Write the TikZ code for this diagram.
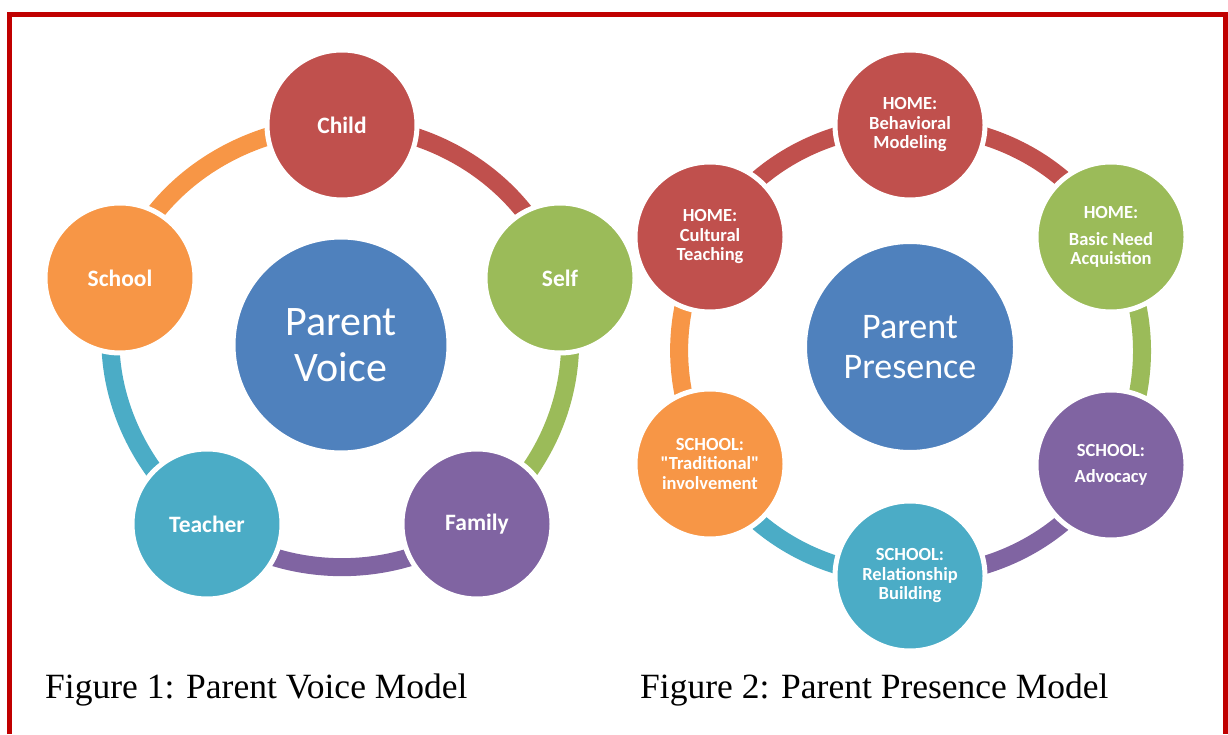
\documentclass[tikz,border=0pt]{standalone}
\usepackage{fontspec}
\newfontfamily\calfont{Carlito}
\newfontfamily\capfont{Liberation Serif}
\usetikzlibrary{backgrounds}
\definecolor{ringred}{HTML}{C0504D}
\definecolor{ringgreen}{HTML}{9BBB59}
\definecolor{ringpurple}{HTML}{8064A2}
\definecolor{ringteal}{HTML}{4BACC6}
\definecolor{ringorange}{HTML}{F79646}
\definecolor{hubblue}{HTML}{4F81BD}
\definecolor{framered}{HTML}{C00000}
\tikzset{dot/.style={
            circle,
            draw=white,
            line width=5pt,
            inner sep=0pt,
            minimum size=150pt,
            text=white,
            align=center,
            font=\calfont\bfseries\fontsize{23.5}{25}\selectfont
        },
        smalldot/.style={
            dot,
            font=\calfont\bfseries\fontsize{18.5}{19.5}\selectfont
        },
        hub/.style={
            dot,
            fill=hubblue,
            minimum size=216pt,
            font=\calfont\fontsize{42}{46}\selectfont
        },
        band/.style={
            line width=18pt,
            looseness=0.93
        },
        caption/.style={
            anchor=base west,
            inner sep=0pt,
            font=\capfont\fontsize{35.5}{40}\selectfont
        }
    }
\begin{document}
\begin{tikzpicture}[x=1pt,y=1pt]
    \useasboundingbox (0,0) rectangle (1228,734);
    \draw[framered, line width=5pt] (9,0) -- (9,719) -- (1225.5,719) -- (1225.5,0);

    % Figure 1
    \node[hub] (voice) at (341,389) {Parent\\Voice};
    \node[dot, fill=ringred] (child) at (342,609) {Child};
    \node[dot, fill=ringgreen] (self) at (560,456) {Self};
    \node[dot, fill=ringpurple] (family) at (477,210) {Family};
    \node[dot, fill=ringteal] (teacher) at (207,210) {Teacher};
    \node[dot, fill=ringorange] (school) at (120,456) {School};

    % Figure 2
    \node[hub, minimum size=211pt, font=\calfont\fontsize{36}{40}\selectfont] (presence) at (910,387) {Parent\\Presence};
    \node[smalldot, fill=ringred] (behav) at (910,609) {HOME:\\Behavioral\\Modeling};
    \node[smalldot, fill=ringgreen] (need) at (1111,497) {HOME:\\[7pt]Basic Need\\Acquistion};
    \node[smalldot, fill=ringpurple] (advocacy) at (1111,269) {SCHOOL:\\[7pt]Advocacy};
    \node[smalldot, fill=ringteal] (relation) at (910,158) {SCHOOL:\\Relationship\\Building};
    \node[smalldot, fill=ringorange] (tradition) at (710,270) {SCHOOL:\\"Traditional"\\involvement};
    \node[smalldot, fill=ringred] (culture) at (710,497) {HOME:\\Cultural\\Teaching};

    \begin{scope}[on background layer]
        \draw[band, ringred] (child.center) to[out=0, in=108] (self.center);
        \draw[band, ringgreen] (self.center) to[out=-72, in=36] (family.center);
        \draw[band, ringpurple] (family.center) to[out=-144, in=-36] (teacher.center);
        \draw[band, ringteal] (teacher.center) to[out=144, in=252] (school.center);
        \draw[band, ringorange] (school.center) to[out=72, in=180] (child.center);

        \draw[band, ringred] (behav.center) to[out=0, in=120] (need.center);
        \draw[band, ringgreen] (need.center) to[out=-60, in=60] (advocacy.center);
        \draw[band, ringpurple] (advocacy.center) to[out=-120, in=0] (relation.center);
        \draw[band, ringteal] (relation.center) to[out=180, in=-60] (tradition.center);
        \draw[band, ringorange] (tradition.center) to[out=120, in=240] (culture.center);
        \draw[band, ringred] (culture.center) to[out=60, in=180] (behav.center);
    \end{scope}

    \node[caption] (cap1) at (45,36) {Figure 1: Parent Voice Model};
    \node[caption] (cap2) at (640,36) {Figure 2: Parent Presence Model};
\end{tikzpicture}
\end{document}
